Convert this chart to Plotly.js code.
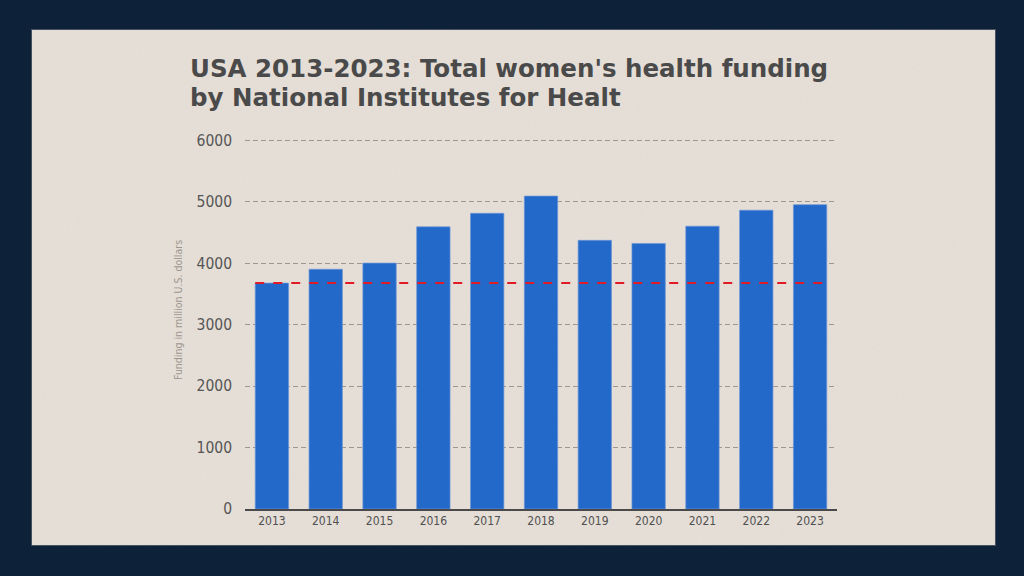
<!DOCTYPE html>
<html>
<head>
<meta charset="utf-8">
<script src="https://cdn.plot.ly/plotly-3.0.1.min.js"></script>
<style>
  html, body { margin: 0; padding: 0; width: 1024px; height: 576px; background: #0d2139; overflow: hidden; }
  #chart {
    position: absolute; left: 32px; top: 30px; width: 963px; height: 515px;
    background-color: #e8e1da;
    background-image: url("data:image/svg+xml;utf8,<svg xmlns='http://www.w3.org/2000/svg' width='963' height='515'><filter id='n'><feTurbulence type='fractalNoise' baseFrequency='0.9' numOctaves='2' stitchTiles='stitch'/><feColorMatrix values='0 0 0 0 0.45  0 0 0 0 0.4  0 0 0 0 0.35  0 0 0 0.12 0'/></filter><rect width='100%' height='100%' filter='url(%23n)'/></svg>");
    box-shadow: 0 0 0 1px rgba(180,175,170,0.35);
  }
</style>
</head>
<body>
<div id="chart"></div>
<script>
/* data */
const YEARS = ["2013", "2014", "2015", "2016", "2017", "2018", "2019", "2020", "2021", "2022", "2023"];
const FUNDING = [3675, 3900, 4000, 4590, 4810, 5090, 4370, 4320, 4600, 4860, 4950]; // million USD
const BASELINE = FUNDING[0]; // red dashed reference = 2013 level
const Y_TICKS = [0, 1000, 2000, 3000, 4000, 5000, 6000];

const TITLE_LINE_1 = "USA 2013-2023: Total women's health funding";
const TITLE_LINE_2 = "by National Institutes for Healt";
const Y_TITLE = "Funding in million U.S. dollars";

const BAR_GAP = 0.38;
const NARROW = "'Liberation Sans Narrow', 'DejaVu Sans Condensed', 'Roboto', sans-serif";
const TITLE_FONT = { family: "'DejaVu Sans', sans-serif", size: 24.5, color: '#4a4a4a', weight: 'bold' };

function draw() {
  const half = (1 - BAR_GAP) / 2;

  const bars = {
    x: YEARS,
    y: FUNDING,
    type: 'bar',
    marker: { color: '#2269c9', line: { color: 'rgba(110,150,215,0.7)', width: 1 } },
    hoverinfo: 'x+y'
  };

  const layout = {
    width: 963,
    height: 515,
    margin: { l: 213, r: 158, t: 104, b: 36 },
    paper_bgcolor: 'rgba(0,0,0,0)',
    plot_bgcolor: 'rgba(0,0,0,0)',
    showlegend: false,
    bargap: BAR_GAP,
    xaxis: {
      type: 'category',
      showgrid: false,
      showline: true,
      linecolor: '#4a4a4a',
      linewidth: 2,
      ticks: '',
      ticklabelstandoff: 0,
      tickfont: { family: NARROW, size: 12, color: '#505050' }
    },
    yaxis: {
      range: [0, 6100],
      tickvals: Y_TICKS,
      showgrid: true,
      gridcolor: '#9d9791',
      gridwidth: 1,
      griddash: '5px,3px',
      zeroline: false,
      showline: false,
      ticks: '',
      ticklabelstandoff: 12,
      tickfont: { family: NARROW, size: 15.5, color: '#555555' }
    },
    shapes: [{
      type: 'line',
      xref: 'x', yref: 'y',
      x0: -half, x1: YEARS.length - 1 + half,
      y0: BASELINE, y1: BASELINE,
      line: { color: '#e01b26', width: 2, dash: 'dash' },
      layer: 'above'
    }],
    annotations: [
      {
        text: TITLE_LINE_1, xref: 'paper', yref: 'paper', x: -0.097, y: 1.175,
        xanchor: 'left', yanchor: 'middle', showarrow: false, font: TITLE_FONT
      },
      {
        text: TITLE_LINE_2, xref: 'paper', yref: 'paper', x: -0.097, y: 1.097,
        xanchor: 'left', yanchor: 'middle', showarrow: false, font: TITLE_FONT
      },
      {
        text: Y_TITLE, xref: 'paper', yref: 'paper', x: -0.113, y: 0.531,
        xanchor: 'center', yanchor: 'middle', textangle: -90, showarrow: false,
        font: { family: NARROW, size: 10.5, color: '#9d968f' }
      }
    ]
  };

  Plotly.newPlot('chart', [bars], layout, { displayModeBar: false, staticPlot: true });
}

window.addEventListener('load', draw);
</script>
</body>
</html>
